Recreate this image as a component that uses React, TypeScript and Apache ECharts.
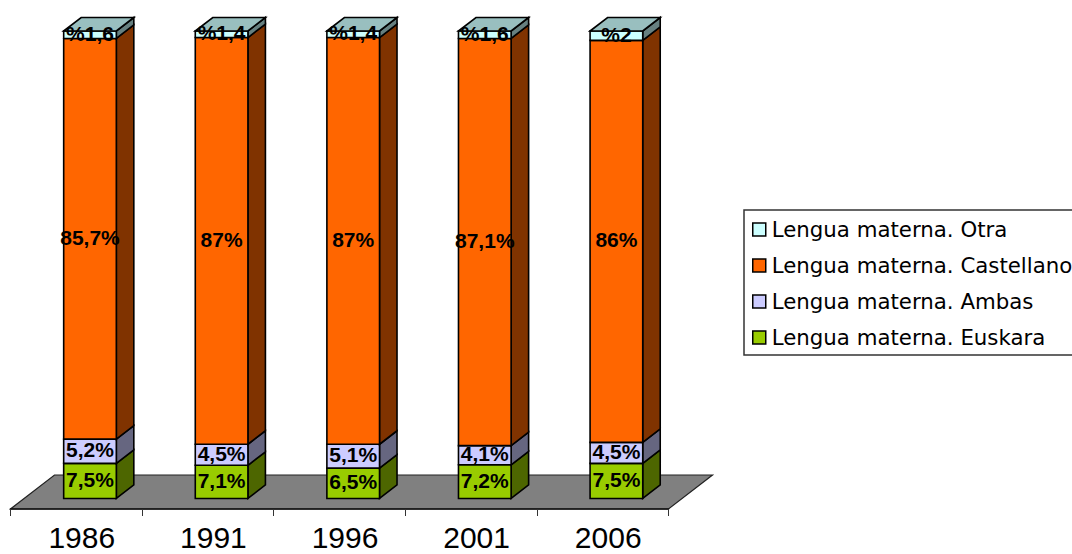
import React, { useEffect, useRef } from "react";
import * as echarts from "echarts";

const years = ["1986", "1991", "1996", "2001", "2006"];
const euskara = [7.5, 7.1, 6.5, 7.2, 7.5];
const ambas = [5.2, 4.5, 5.1, 4.1, 4.5];
const castellano = [85.7, 87, 87, 87.1, 86];
const otra = [1.6, 1.4, 1.4, 1.6, 2];

const seriesNames = [
  "Lengua materna. Euskara",
  "Lengua materna. Ambas",
  "Lengua materna. Castellano",
  "Lengua materna. Otra",
];
const seriesValues = [euskara, ambas, castellano, otra];
const frontColors = ["#99CC00", "#CCCCFF", "#FF6600", "#CCFFFF"];
const sideColors = ["#4D6600", "#666680", "#803300", "#668080"];
const topColor = "#99BFBF";
const floorColor = "#808080";

// Oblique projection used for the columns and for the floor
const BAR_DX = 17.5;
const BAR_DY = -13.5;
const BAR_SHIFT = 13.7;
const BAR_RATIO = 0.4;
const FLOOR_DX = 44;
const FLOOR_DY = -34;
const LABEL_RAISE = 1.5;
const EDGE = { stroke: "#000", lineWidth: 1.6 };

const decimal = (v: number) => String(v).replace(".", ",");

function columnRenderer(seriesIndex: number) {
  const isTop = seriesIndex === seriesValues.length - 1;
  return (_params: any, api: any) => {
    const cat = api.value(0);
    const lowPt = api.coord([cat, api.value(1)]);
    const highPt = api.coord([cat, api.value(2)]);
    const width = api.size([1, 0])[0] * BAR_RATIO;
    const x0 = lowPt[0] + BAR_SHIFT - width / 2;
    const x1 = x0 + width;
    const yLow = lowPt[1];
    const yHigh = highPt[1];
    const value = api.value(2) - api.value(1);
    const shown = decimal(Math.round(value * 10) / 10);
    const text = isTop ? `%${shown}` : `${shown}%`;
    const children: any[] = [
      {
        type: "polygon",
        shape: {
          points: [
            [x1, yLow],
            [x1 + BAR_DX, yLow + BAR_DY],
            [x1 + BAR_DX, yHigh + BAR_DY],
            [x1, yHigh],
          ],
        },
        style: { fill: sideColors[seriesIndex], ...EDGE },
      },
      {
        type: "rect",
        shape: { x: x0, y: yHigh, width, height: yLow - yHigh },
        style: { fill: frontColors[seriesIndex], ...EDGE },
      },
    ];
    if (isTop) {
      children.push({
        type: "polygon",
        shape: {
          points: [
            [x0, yHigh],
            [x0 + BAR_DX, yHigh + BAR_DY],
            [x1 + BAR_DX, yHigh + BAR_DY],
            [x1, yHigh],
          ],
        },
        style: { fill: topColor, ...EDGE },
      });
    }
    children.push({
      type: "text",
      z2: 50,
      style: {
        text,
        x: (x0 + x1) / 2,
        y: (yLow + yHigh) / 2 - LABEL_RAISE,
        align: "center",
        verticalAlign: "middle",
        font: 'bold 21px "Liberation Sans", Arial, sans-serif',
        fill: "#000",
      },
    });
    return { type: "group", children };
  };
}

function floorRenderer(params: any) {
  const box = params.coordSys;
  const left = box.x;
  const right = box.x + box.width;
  const bottom = box.y + box.height;
  return {
    type: "polygon",
    shape: {
      points: [
        [left, bottom],
        [right, bottom],
        [right + FLOOR_DX, bottom + FLOOR_DY],
        [left + FLOOR_DX, bottom + FLOOR_DY],
      ],
    },
    style: { fill: floorColor, stroke: "#222", lineWidth: 1.2 },
  };
}

function buildOption() {
  let lower = years.map(() => 0);
  const columns = seriesValues.map((values, i) => {
    const data = values.map((v, c) => [c, lower[c], lower[c] + v]);
    lower = lower.map((l, c) => l + values[c]);
    return {
      type: "custom",
      name: seriesNames[i],
      coordinateSystem: "cartesian2d",
      clip: false,
      z: 3 + i,
      itemStyle: { color: frontColors[i] },
      encode: { x: 0, y: [1, 2] },
      renderItem: columnRenderer(i),
      data,
    };
  });
  return {
    animation: false,
    backgroundColor: "#fff",
    grid: { left: 10.5, top: 31, width: 658, height: 478, outerBoundsMode: "none" },
    xAxis: {
      type: "category",
      data: years,
      z: 2,
      axisLine: { show: true, onZero: false, lineStyle: { color: "#111", width: 1.5 } },
      axisTick: { show: true, alignWithLabel: false, interval: 0, length: 7, lineStyle: { color: "#333", width: 1 } },
      axisLabel: {
        color: "#000",
        fontFamily: '"Liberation Sans", Arial, sans-serif',
        fontSize: 30,
        margin: 13,
        padding: [0, 0, 0, 11],
      },
    },
    yAxis: { type: "value", min: -2.25, max: 100, show: false },
    legend: {
      orient: "vertical",
      left: 744,
      top: 210,
      padding: [9, 40, 7, 8],
      itemGap: 15,
      itemWidth: 13,
      itemHeight: 13,
      icon: "rect",
      backgroundColor: "#fff",
      borderColor: "#333",
      borderWidth: 1.5,
      borderRadius: 0,
      itemStyle: { borderColor: "#000", borderWidth: 1.5 },
      textStyle: {
        color: "#000",
        fontFamily: '"DejaVu Sans", Verdana, sans-serif',
        fontSize: 21.3,
        padding: [0, 0, 0, 1],
      },
      data: [...seriesNames].reverse(),
    },
    series: [
      {
        type: "custom",
        name: "floor",
        coordinateSystem: "cartesian2d",
        clip: false,
        z: 1,
        renderItem: floorRenderer,
        data: [[0, 0]],
      },
      ...columns,
    ],
  };
}

export default function App() {
  const ref = useRef<HTMLDivElement>(null);
  useEffect(() => {
    document.body.style.margin = "0";
    const chart = echarts.init(ref.current, undefined, { renderer: "svg" });
    chart.setOption(buildOption() as any);
    return () => chart.dispose();
  }, []);
  return <div ref={ref} style={{ width: 1072, height: 554 }} />;
}
